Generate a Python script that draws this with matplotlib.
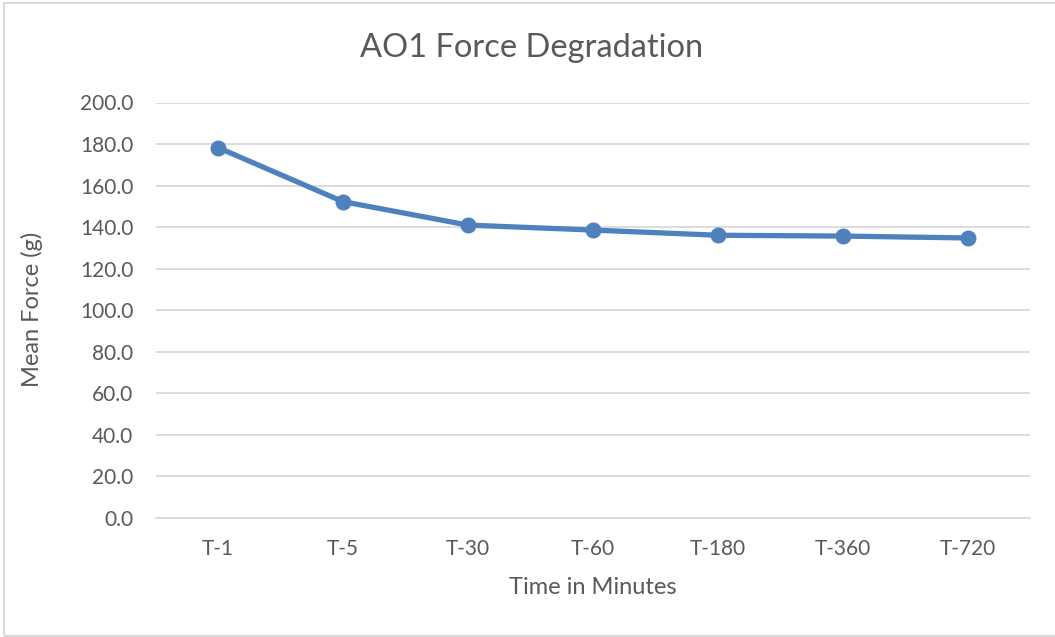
import matplotlib
matplotlib.use("Agg")
import matplotlib.pyplot as plt
from matplotlib.patches import Rectangle

categories = ["T-1", "T-5", "T-30", "T-60", "T-180", "T-360", "T-720"]
mean_force = [178.3, 152.3, 141.0, 138.6, 136.1, 135.7, 134.8]
y_ticks = [0, 20, 40, 60, 80, 100, 120, 140, 160, 180, 200]

plt.rcParams['font.family'] = ['Lato', 'DejaVu Sans']
W, H = 1055, 637
fig = plt.figure(figsize=(W / 100, H / 100), dpi=100)
fig.patch.set_facecolor("white")

# outer chart border
fig.patches.append(Rectangle((4 / W, 1 - 636 / H), (1060 - 4) / W, (636 - 3) / H,
                             transform=fig.transFigure, fill=False,
                             edgecolor="#D9D9D9", linewidth=1.5))

ax = fig.add_axes([155.5 / W, 1 - 518 / H, (1030 - 155.5) / W, (518 - 102.5) / H])
x = list(range(len(categories)))
ax.plot(x, mean_force, color="#4F81BD", linewidth=3.8, marker="o",
        markersize=10.5, solid_capstyle="round", zorder=3)

ax.set_xlim(-0.5, len(categories) - 0.5)
ax.set_ylim(0, 200)
ax.set_yticks(y_ticks)
ax.set_yticklabels([f"{v:.1f}" for v in y_ticks])
ax.set_xticks(x)
ax.set_xticklabels(categories)
ax.yaxis.grid(True, color="#D9D9D9", linewidth=1.3)
ax.set_axisbelow(True)
for s in ["top", "right", "left"]:
    ax.spines[s].set_visible(False)
ax.spines["bottom"].set_color("#D9D9D9")
ax.spines["bottom"].set_linewidth(1.3)
ax.tick_params(axis="both", length=0, labelsize=15, colors="#595959")
ax.tick_params(axis="y", pad=16)
ax.tick_params(axis="x", pad=15)

fig.text(532 / W, 1 - 48 / H, "AO1 Force Degradation", ha="center", va="center",
         fontsize=23.5, color="#595959")
fig.text(593 / W, 1 - 588 / H, "Time in Minutes", ha="center", va="center",
         fontsize=17, color="#595959")
fig.text(32 / W, 1 - 309 / H, "Mean Force (g)", ha="center", va="center",
         rotation=90, fontsize=17, color="#595959")

fig.savefig("out.png", dpi=100)
